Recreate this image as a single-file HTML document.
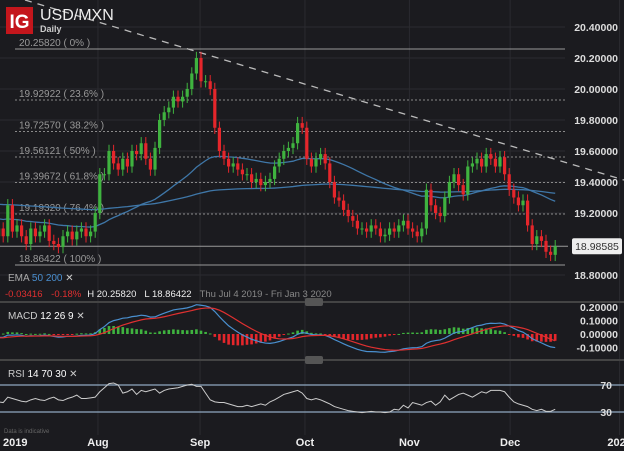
<!DOCTYPE html>
<html><head><meta charset="utf-8"><style>
body{margin:0;background:#1b1b1f;overflow:hidden}
svg{display:block;font-family:"Liberation Sans",sans-serif}
</style></head><body>
<svg id="c" width="624" height="451">
<rect width="624" height="451" fill="#1b1b1f"/>
<g id="grid"></g>
<g id="fib"></g>
<line x1="25" y1="0" x2="624" y2="180" stroke="#bbb" stroke-width="1.3" stroke-dasharray="7,6"/>
<g id="ema"></g>
<g id="candles"></g>
<g id="macd"></g>
<g id="rsi"></g>
<g id="axes"></g>
<rect x="6" y="7" width="27" height="27" fill="#c4161c"/>
<text x="19.5" y="28" fill="#fff" font-size="19" font-weight="bold" text-anchor="middle">IG</text>
<text x="40" y="20" fill="#eee" font-size="16">USD/MXN</text>
<text x="40" y="32" fill="#ccc" font-size="9" font-weight="bold">Daily</text>
<text x="8" y="281" font-size="10" fill="#aaa">EMA <tspan fill="#4a8fd0">50</tspan> <tspan fill="#4a8fd0">200</tspan> <tspan fill="#ccc">✕</tspan></text>
<text x="5" y="297" font-size="9.5" fill="#e03030">-0.03416 <tspan dx="6">-0.18%</tspan><tspan dx="6" fill="#eee">H 20.25820</tspan><tspan dx="8" fill="#eee">L 18.86422</tspan><tspan dx="8" fill="#888">Thu Jul 4 2019 - Fri Jan 3 2020</tspan></text>
<text x="8" y="319" font-size="10" fill="#ccc">MACD <tspan fill="#fff">12</tspan> <tspan fill="#fff">26</tspan> <tspan fill="#fff">9</tspan> ✕</text>
<text x="8" y="377" font-size="10" fill="#ccc">RSI <tspan fill="#fff">14</tspan> <tspan fill="#fff">70</tspan> <tspan fill="#fff">30</tspan> ✕</text>
<text x="4" y="433" font-size="6" fill="#666">Data is indicative</text>
</svg>
<script>
const closes=[19.05,19.10,19.05,19.25,19.08,19.12,19.05,19.00,19.10,19.05,19.08,19.12,19.02,19.00,18.98,19.05,19.08,19.03,19.08,19.10,19.05,19.08,19.20,
19.45,19.45,19.60,19.52,19.48,19.55,19.50,19.60,19.58,19.65,19.55,19.48,19.62,19.80,19.85,19.88,19.95,19.92,19.95,20.00,20.10,20.20,
20.05,20.05,20.00,19.75,19.60,19.55,19.50,19.52,19.48,19.45,19.45,19.40,19.42,19.38,19.40,19.42,19.50,19.55,19.60,19.62,19.65,
19.78,19.75,19.55,19.50,19.55,19.58,19.52,19.40,19.30,19.28,19.22,19.18,19.15,19.10,19.10,19.08,19.12,19.10,19.05,19.06,19.10,19.08,19.12,
19.15,19.10,19.08,19.05,19.10,19.35,19.25,19.20,19.18,19.30,19.40,19.45,19.38,19.32,19.50,19.52,19.55,19.50,19.58,19.55,19.50,
19.56,19.45,19.35,19.30,19.25,19.28,19.12,19.00,19.05,19.02,18.95,18.93,18.98585];
const rsiValues=[45,45,44,52,50,48,46,45,48,50,48,47,50,52,48,47,50,52,55,50,50,51,52,
60,66,72,73,70,58,60,64,56,62,60,62,64,58,62,64,65,66,68,70,71,68,
68,58,48,45,44,44,42,40,38,38,40,38,40,42,40,45,48,52,56,58,60,
62,58,50,48,50,48,45,42,38,36,34,32,31,30,29,30,31,30,30,29,30,34,33,
40,36,44,42,40,44,46,40,45,55,48,52,56,58,55,52,56,60,58,62,62,
62,60,52,45,42,40,38,34,32,34,31,31,34];
const firstOpen=19.00;
const priceTicks=[20.4,20.2,20.0,19.8,19.6,19.4,19.2,18.8];
const fibLevels=[20.25820,19.92922,19.72570,19.56121,19.39672,19.19320,18.86422];
const fibPct=["0%","23.6%","38.2%","50%","61.8%","76.4%","100%"];
const macdTicks=[0.2,0.1,0,-0.1];
const rsiTicks=[70,30];
const months=["2019","Aug","Sep","Oct","Nov","Dec","2020"];
const monthIdx=[-1.5,22.6,44.8,67.6,90.3,112.2,136];
const NS="http://www.w3.org/2000/svg";
const X=i=>-6+i*4.6;
const Y=p=>27+(20.4-p)*155;
const MY=v=>334-v*135;
const RY=r=>385+(70-r)*0.675;
function mk(tag,at,par){const e=document.createElementNS(NS,tag);for(const k in at)e.setAttribute(k,at[k]);document.getElementById(par).appendChild(e);return e;}
priceTicks.forEach(p=>{const l=mk('line',{x1:0,x2:565,y1:Y(p),y2:Y(p),stroke:'#2b2b30'},'grid');

});
monthIdx.forEach((m,k)=>{if(k==0)return;const l=mk('line',{x1:X(m),x2:X(m),y1:0,y2:435,stroke:'#2b2b30'},'grid');

});
fibLevels.forEach((f,k)=>{const solid=(k==0||k==6);
const l=mk('line',{x1:15,x2:565,y1:Y(f),y2:Y(f),stroke:solid?'#9a9a9a':'#8a8a8a','stroke-dasharray':solid?'':'2,2'},'fib');


const t=mk('text',{x:19,y:Y(f)-3,fill:'#999','font-size':10},'fib');t.textContent=f.toFixed(5)+" ( "+fibPct[k]+" )";

});
const last=closes[closes.length-1];
const lp=mk('line',{x1:0,x2:568,y1:Y(last),y2:Y(last),stroke:'#999'},'fib');


function ema(arr,n,seed){let k=2/(n+1),e=seed,o=[];arr.forEach(v=>{e=v*k+e*(1-k);o.push(e);});return o;}
[[50,19.17],[200,19.26]].forEach(([n,s])=>{const e=ema(closes,n,s);
const p=mk('polyline',{points:e.map((v,i)=>X(i)+','+Y(v)).join(' '),fill:'none',stroke:'#3f77a8','stroke-width':1.3},'ema');

});
closes.forEach((c,i)=>{const o=i?closes[i-1]:firstOpen;const up=c>=o;const col=up?'#3fb33f':'#e5262b';
const w=mk('line',{x1:X(i),x2:X(i),y1:Y(Math.max(o,c)+0.04),y2:Y(Math.min(o,c)-0.04),stroke:col},'candles');


const b=mk('rect',{x:X(i)-1.6,width:3.2,y:Y(Math.max(o,c)),height:Math.max(1,Math.abs(Y(o)-Y(c))),fill:col},'candles');

});
const e12=ema(closes,12,closes[0]+0.02),e26=ema(closes,26,closes[0]+0.05);
const macd=e12.map((v,i)=>v-e26[i]);const sig=ema(macd,9,macd[0]);
macd.forEach((m,i)=>{const h=m-sig[i];const r=mk('rect',{x:X(i)-1.3,width:2.6,y:Math.min(MY(0),MY(h)),height:Math.max(1,Math.abs(MY(h)-MY(0))),fill:h>=0?'#3fb33f':'#e5262b'},'macd');

});
[[macd,'#4a90d0','macd-line'],[sig,'#e03030','signal-line']].forEach(([a,c,n])=>{const p=mk('polyline',{points:a.map((v,i)=>X(i)+','+MY(v)).join(' '),fill:'none',stroke:c,'stroke-width':1.2},'macd');

});
rsiTicks.forEach(r=>{const l=mk('line',{x1:0,x2:624,y1:RY(r),y2:RY(r),stroke:'#8fa8c0','stroke-width':1.2},'rsi');

});
const rp=mk('polyline',{points:rsiValues.map((v,i)=>X(i)+','+RY(v)).join(' '),fill:'none',stroke:'#ccc','stroke-width':1},'rsi');


[302,360].forEach(y=>{const l=mk('line',{x1:0,x2:624,y1:y,y2:y,stroke:'#444','stroke-width':2},'axes');


const h=mk('rect',{x:305,y:y-4,width:18,height:8,rx:2,fill:'#555'},'axes');

});
priceTicks.forEach(p=>{const t=mk('text',{x:618,y:Y(p)+4,fill:'#ddd','font-size':10.5,'font-weight':'bold','text-anchor':'end'},'axes');t.textContent=p.toFixed(5);

});
const box=mk('rect',{x:572,y:Y(last)-8,width:50,height:16,rx:2,fill:'#eee'},'axes');


const lt=mk('text',{x:597,y:Y(last)+4,fill:'#333','font-size':10.5,'text-anchor':'middle'},'axes');lt.textContent=last.toFixed(5);


macdTicks.forEach(v=>{const t=mk('text',{x:618,y:MY(v)+4,fill:'#ddd','font-size':10.5,'font-weight':'bold','text-anchor':'end'},'axes');t.textContent=v.toFixed(5);

});
rsiTicks.forEach(v=>{const t=mk('text',{x:612,y:RY(v)+4,fill:'#ddd','font-size':10.5,'font-weight':'bold','text-anchor':'end'},'axes');t.textContent=v;

});
months.forEach((m,k)=>{const x=k==0?3:X(monthIdx[k]);const t=mk('text',{x:x,y:446,fill:'#eee','font-size':11,'font-weight':'bold','text-anchor':k==0?'start':'middle'},'axes');t.textContent=m;

});
</script>
</body></html>
